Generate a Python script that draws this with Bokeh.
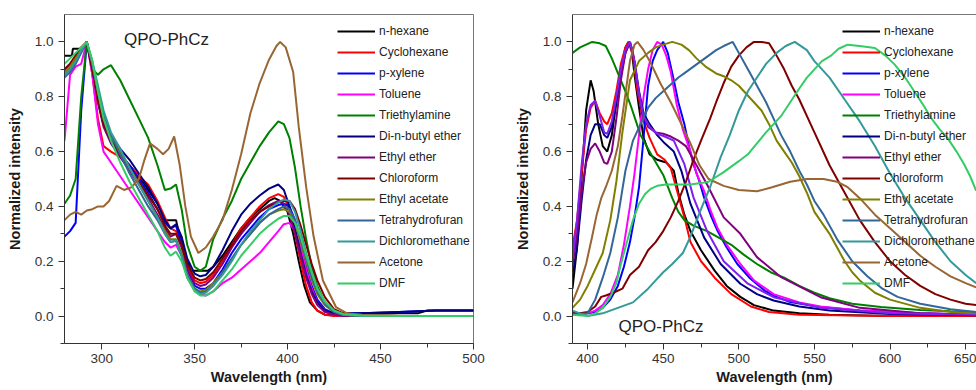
from bokeh.plotting import figure
from bokeh.models import (Legend, LegendItem, Label, FixedTicker, Range1d,
                          PrintfTickFormatter, LinearAxis)
from bokeh.layouts import row
from bokeh.embed import file_html
from bokeh.resources import INLINE

FONT = "Liberation Sans"

# ---------------- tick definitions ----------------
Y_TICKS = [0.0, 0.2, 0.4, 0.6, 0.8, 1.0]
Y_MINOR = [-0.1, 0.1, 0.3, 0.5, 0.7, 0.9]
ABS_X_TICKS = [300, 350, 400, 450, 500]
ABS_X_MINOR = [325, 375, 425, 475]
EM_X_TICKS = [400, 450, 500, 550, 600, 650]
EM_X_MINOR = [425, 475, 525, 575, 625]

SOLVENTS = ["n-hexane", "Cyclohexane", "p-xylene", "Toluene", "Triethylamine",
            "Di-n-butyl ether", "Ethyl ether", "Chloroform", "Ethyl acetate",
            "Tetrahydrofuran", "Dichloromethane", "Acetone", "DMF"]
COLORS = ["#000000", "#FF0000", "#0000FF", "#FF00FF", "#008000", "#000080",
          "#800080", "#800000", "#808000", "#336699", "#339999", "#996633",
          "#33CC66"]
EXTRA_COLOR = "#8020F0"

# ---------------- absorption (left panel) ----------------
ABS_WL = [280, 283, 286, 289, 292, 295, 298, 301, 305, 310, 315, 320, 325, 330,
          334, 337, 340, 343, 346, 350, 353, 356, 360, 365, 370, 375, 380, 385,
          390, 395, 398, 401, 404, 407, 410, 413, 416, 420, 425, 430, 440, 460,
          480, 500]

ABS_WL_HEXANE = [280, 284, 284.5, 289, 292, 295, 298, 301, 305, 310, 315, 320,
                 325, 330, 333, 333.5, 340, 341, 343, 346, 348, 357, 360, 365,
                 370, 375, 380, 385, 390, 393, 396, 400, 403, 406, 409, 412,
                 416, 420, 430, 440, 470, 475, 500]
abs_hexane = [0.95, 0.95, 0.975, 0.975, 1.00, 0.90, 0.78, 0.70, 0.64, 0.59,
              0.55, 0.51, 0.46, 0.41, 0.37, 0.35, 0.35, 0.32, 0.28, 0.20,
              0.165, 0.165, 0.18, 0.22, 0.27, 0.32, 0.36, 0.39, 0.42, 0.43,
              0.42, 0.38, 0.30, 0.20, 0.11, 0.05, 0.02, 0.005, 0.0, 0.01,
              0.01, 0.02, 0.02]
abs_cyclohexane = [0.90, 0.92, 0.95, 0.98, 1.00, 0.88, 0.72, 0.62, 0.60, 0.58,
                   0.55, 0.51, 0.48, 0.42, 0.36, 0.32, 0.31, 0.26, 0.18, 0.13,
                   0.12, 0.125, 0.15, 0.20, 0.26, 0.32, 0.36, 0.40, 0.43, 0.445,
                   0.435, 0.39, 0.30, 0.20, 0.11, 0.05, 0.02, 0.005, 0.0, 0.0,
                   0.0, 0.0, 0.0, 0.0]
abs_pxylene = [0.29, 0.31, 0.34, 0.75, 1.00, 0.90, 0.79, 0.70, 0.64, 0.59,
               0.55, 0.50, 0.45, 0.39, 0.34, 0.32, 0.33, 0.26, 0.17, 0.11,
               0.10, 0.10, 0.12, 0.17, 0.23, 0.28, 0.32, 0.36, 0.39, 0.405,
               0.41, 0.40, 0.35, 0.27, 0.18, 0.11, 0.06, 0.025, 0.01, 0.01,
               0.01, 0.015, 0.02, 0.02]
abs_toluene = [0.64, 0.88, 0.91, 0.92, 1.00, 0.88, 0.70, 0.60, 0.56, 0.51,
               0.46, 0.41, 0.36, 0.31, 0.27, 0.25, 0.26, 0.22, 0.15, 0.10,
               0.08, 0.075, 0.09, 0.12, 0.14, 0.17, 0.20, 0.23, 0.27, 0.31,
               0.335, 0.34, 0.31, 0.25, 0.17, 0.10, 0.05, 0.02, 0.005, 0.0,
               0.0, 0.0, 0.0, 0.0]
abs_triethylamine = [0.41, 0.44, 0.50, 0.80, 1.00, 0.90, 0.88, 0.90, 0.915,
                     0.86, 0.79, 0.72, 0.65, 0.55, 0.46, 0.465, 0.48, 0.39,
                     0.26, 0.18, 0.165, 0.18, 0.28, 0.355, 0.42, 0.50, 0.56,
                     0.62, 0.67, 0.71, 0.70, 0.65, 0.54, 0.40, 0.28, 0.18, 0.11,
                     0.05, 0.015, 0.005, 0.0, 0.0, 0.0, 0.0]
abs_dibutyl = [0.88, 0.90, 0.93, 0.97, 1.00, 0.90, 0.80, 0.72, 0.66, 0.61,
               0.57, 0.52, 0.47, 0.41, 0.35, 0.32, 0.335, 0.29, 0.21, 0.155,
               0.145, 0.15, 0.18, 0.24, 0.31, 0.37, 0.41, 0.44, 0.465, 0.48,
               0.46, 0.40, 0.32, 0.23, 0.15, 0.09, 0.05, 0.02, 0.01, 0.01,
               0.01, 0.015, 0.02, 0.02]
abs_ethylether = [0.90, 0.92, 0.94, 0.97, 1.00, 0.90, 0.78, 0.69, 0.63, 0.58,
                  0.53, 0.48, 0.43, 0.37, 0.32, 0.29, 0.30, 0.25, 0.17, 0.12,
                  0.11, 0.115, 0.14, 0.19, 0.25, 0.30, 0.34, 0.38, 0.405, 0.42,
                  0.41, 0.37, 0.30, 0.22, 0.14, 0.08, 0.04, 0.015, 0.005, 0.0,
                  0.0, 0.0, 0.0, 0.0]
abs_chloroform = [0.90, 0.92, 0.95, 0.98, 1.00, 0.90, 0.79, 0.70, 0.64, 0.59,
                  0.54, 0.49, 0.44, 0.39, 0.33, 0.30, 0.30, 0.26, 0.19, 0.14,
                  0.13, 0.135, 0.16, 0.21, 0.26, 0.31, 0.35, 0.38, 0.40, 0.415,
                  0.42, 0.42, 0.39, 0.33, 0.26, 0.19, 0.13, 0.07, 0.025, 0.01,
                  0.005, 0.0, 0.0, 0.0]
abs_ethylacetate = [0.89, 0.91, 0.94, 0.97, 1.00, 0.92, 0.82, 0.73, 0.66, 0.60,
                    0.54, 0.48, 0.42, 0.36, 0.31, 0.28, 0.28, 0.23, 0.15, 0.10,
                    0.09, 0.095, 0.12, 0.16, 0.21, 0.26, 0.30, 0.34, 0.37,
                    0.385, 0.39, 0.38, 0.34, 0.27, 0.20, 0.13, 0.08, 0.04,
                    0.015, 0.005, 0.0, 0.0, 0.0, 0.0]
abs_thf = [0.87, 0.89, 0.92, 0.96, 1.00, 0.92, 0.82, 0.73, 0.66, 0.59, 0.52,
           0.46, 0.40, 0.35, 0.30, 0.27, 0.275, 0.22, 0.15, 0.10, 0.085, 0.09,
           0.11, 0.16, 0.21, 0.26, 0.30, 0.34, 0.37, 0.39, 0.40, 0.39, 0.35,
           0.28, 0.21, 0.14, 0.09, 0.045, 0.015, 0.005, 0.0, 0.0, 0.0, 0.0]
abs_dcm = [0.88, 0.90, 0.93, 0.97, 1.00, 0.93, 0.84, 0.75, 0.67, 0.61, 0.54,
           0.48, 0.42, 0.36, 0.30, 0.27, 0.275, 0.22, 0.14, 0.095, 0.08, 0.085,
           0.11, 0.15, 0.20, 0.26, 0.31, 0.35, 0.39, 0.415, 0.425, 0.42, 0.38,
           0.31, 0.23, 0.16, 0.10, 0.05, 0.02, 0.005, 0.0, 0.0, 0.0, 0.0]
ABS_WL_ACETONE = [280, 283, 286, 289, 292, 295, 298, 301, 304, 308, 312, 316,
                  320, 323, 326, 330, 333, 336, 339, 342, 345, 348, 352, 356,
                  360, 365, 370, 375, 380, 385, 390, 394, 396, 399, 403, 406,
                  410, 414, 419, 426, 432, 440, 460, 480, 500]
abs_acetone = [0.35, 0.37, 0.38, 0.37, 0.385, 0.39, 0.40, 0.40, 0.42, 0.475,
               0.46, 0.47, 0.50, 0.57, 0.63, 0.61, 0.59, 0.61, 0.655, 0.55,
               0.40, 0.29, 0.23, 0.25, 0.29, 0.35, 0.46, 0.59, 0.74, 0.85,
               0.935, 0.985, 1.00, 0.98, 0.89, 0.69, 0.47, 0.29, 0.13, 0.033,
               0.01, 0.005, 0.0, 0.0, 0.0]
abs_dmf = [0.92, 0.94, 0.96, 0.98, 1.00, 0.93, 0.82, 0.72, 0.64, 0.56, 0.49,
           0.43, 0.37, 0.31, 0.25, 0.22, 0.235, 0.20, 0.14, 0.09, 0.075, 0.075,
           0.09, 0.13, 0.17, 0.22, 0.26, 0.30, 0.33, 0.355, 0.365, 0.365, 0.34,
           0.29, 0.22, 0.16, 0.10, 0.055, 0.02, 0.008, 0.002, 0.0, 0.0, 0.0]

# ---------------- emission (right panel) ----------------
em_wl_hexane = [390, 393, 396, 399, 402, 404, 407, 410, 413, 416, 419, 422,
                425, 427, 429, 431, 434, 437, 441, 446, 452, 457, 460, 464, 468,
                475, 484, 492, 501, 510, 523, 540, 560, 600, 657]
em_hexane = [0.10, 0.25, 0.50, 0.75, 0.86, 0.82, 0.70, 0.62, 0.60, 0.66, 0.78,
             0.90, 0.98, 1.00, 0.98, 0.88, 0.76, 0.65, 0.59, 0.57, 0.56, 0.53,
             0.45, 0.37, 0.31, 0.24, 0.166, 0.11, 0.07, 0.04, 0.02, 0.01,
             0.005, 0.0, 0.0]
em_wl_cyclohexane = [390, 393, 396, 399, 402, 405, 408, 411, 413, 416, 419,
                     422, 425, 427, 430, 433, 437, 441, 446, 451, 455, 459, 464,
                     468, 475, 484, 495, 508, 520, 540, 600, 657]
em_cyclohexane = [0.25, 0.35, 0.52, 0.68, 0.76, 0.785, 0.74, 0.71, 0.70, 0.74,
                  0.82, 0.92, 0.98, 1.00, 0.95, 0.82, 0.71, 0.65, 0.59, 0.57,
                  0.54, 0.46, 0.36, 0.27, 0.20, 0.14, 0.08, 0.035, 0.015,
                  0.005, 0.0, 0.0]
em_wl_pxylene = [390, 400, 405, 410, 415, 420, 424, 428, 431, 434, 437, 440,
                 443, 446, 450, 453, 457, 460, 464, 467, 470, 474, 477, 482,
                 486, 492, 499, 507, 517, 525, 534, 554, 580, 620, 657]
em_pxylene = [0.01, 0.01, 0.015, 0.03, 0.06, 0.11, 0.18, 0.27, 0.36, 0.47,
              0.65, 0.84, 0.93, 0.97, 1.00, 0.96, 0.86, 0.78, 0.70, 0.62,
              0.554, 0.49, 0.433, 0.36, 0.31, 0.25, 0.19, 0.14, 0.093, 0.07,
              0.051, 0.033, 0.02, 0.01, 0.005]
em_wl_toluene = [390, 400, 405, 410, 415, 420, 424, 428, 431, 434, 437, 440,
                 443, 446, 449, 452, 455, 459, 463, 468, 472, 477, 481, 486,
                 492, 501, 510, 523, 540, 554, 580, 620, 657]
em_toluene = [0.01, 0.01, 0.02, 0.04, 0.08, 0.15, 0.26, 0.40, 0.52, 0.66,
              0.80, 0.90, 0.97, 1.00, 0.99, 0.95, 0.89, 0.77, 0.68, 0.60,
              0.52, 0.457, 0.39, 0.32, 0.26, 0.19, 0.13, 0.08, 0.05, 0.035,
              0.02, 0.01, 0.005]
em_wl_triethylamine = [390, 395, 399, 403, 408, 412, 416, 419, 422, 425, 429,
                       432, 435, 438, 443, 450, 456, 460, 464, 470, 479, 487,
                       495, 503, 512, 521, 530, 540, 550, 560, 575, 594, 620,
                       640, 657]
em_triethylamine = [0.96, 0.98, 0.99, 1.00, 0.995, 0.985, 0.94, 0.90, 0.86,
                    0.82, 0.76, 0.71, 0.66, 0.63, 0.58, 0.515, 0.43, 0.38,
                    0.35, 0.33, 0.31, 0.285, 0.26, 0.225, 0.19, 0.16, 0.14,
                    0.11, 0.085, 0.065, 0.045, 0.033, 0.022, 0.018, 0.015]
em_wl_dibutyl = [390, 393, 396, 399, 402, 405, 408, 411, 413, 416, 419, 422,
                 425, 428, 431, 434, 437, 441, 446, 451, 457, 462, 468, 477,
                 488, 501, 512, 523, 540, 560, 600, 657]
em_dibutyl = [0.15, 0.25, 0.42, 0.57, 0.66, 0.70, 0.70, 0.66, 0.65, 0.69,
              0.78, 0.88, 0.96, 1.00, 0.93, 0.82, 0.74, 0.70, 0.66, 0.63,
              0.60, 0.53, 0.41, 0.287, 0.19, 0.118, 0.08, 0.057, 0.035, 0.02,
              0.008, 0.003]
em_wl_ethylether = [390, 393, 396, 399, 402, 405, 408, 411, 413, 416, 419,
                    422, 425, 428, 430, 433, 436, 440, 445, 450, 455, 460, 465,
                    470, 479, 490, 501, 512, 528, 554, 580, 620, 657]
em_ethylether = [0.18, 0.30, 0.45, 0.56, 0.61, 0.63, 0.60, 0.56, 0.555, 0.60,
                 0.72, 0.86, 0.96, 1.00, 0.96, 0.85, 0.74, 0.69, 0.67, 0.665,
                 0.655, 0.64, 0.62, 0.57, 0.48, 0.36, 0.30, 0.215, 0.142,
                 0.069, 0.03, 0.01, 0.005]
em_wl_extra = [390, 393, 396, 399, 402, 405, 408, 411, 413, 416, 419, 422, 425,
               428, 431, 434, 437, 441, 446, 451, 457, 464, 470, 479, 490, 506,
               523, 554, 600, 657]
em_extra = [0.21, 0.35, 0.55, 0.70, 0.77, 0.785, 0.73, 0.67, 0.665, 0.71,
            0.80, 0.90, 0.97, 1.00, 0.93, 0.81, 0.73, 0.69, 0.665, 0.655, 0.64,
            0.554, 0.433, 0.31, 0.20, 0.118, 0.069, 0.03, 0.01, 0.005]
em_wl_chloroform = [390, 395, 400, 405, 409, 412, 417, 423, 428, 434, 440, 445,
                    450, 455, 460, 465, 470, 475, 481, 485, 490, 495, 500, 505,
                    510, 515, 520, 525, 530, 535, 540, 550, 560, 570, 580, 590,
                    600, 610, 620, 630, 640, 650, 657]
em_chloroform = [0.01, 0.01, 0.015, 0.035, 0.07, 0.075, 0.085, 0.10, 0.15,
                 0.18, 0.24, 0.27, 0.31, 0.36, 0.42, 0.49, 0.57, 0.64, 0.72,
                 0.78, 0.85, 0.91, 0.95, 0.98, 1.00, 1.00, 0.995, 0.95, 0.90,
                 0.84, 0.79, 0.67, 0.55, 0.45, 0.35, 0.27, 0.20, 0.15, 0.11,
                 0.08, 0.06, 0.045, 0.04]
em_wl_ethylacetate = [390, 395, 400, 405, 410, 415, 419, 423, 428, 434, 440,
                      445, 450, 456, 462, 467, 472, 478, 485, 490, 495, 500,
                      505, 510, 515, 520, 525, 530, 535, 540, 545, 550, 555,
                      560, 565, 570, 575, 580, 590, 600, 620, 640, 657]
em_ethylacetate = [0.03, 0.06, 0.11, 0.17, 0.23, 0.35, 0.49, 0.67, 0.86, 0.93,
                   0.96, 0.98, 0.99, 1.00, 0.99, 0.97, 0.94, 0.91, 0.885,
                   0.875, 0.86, 0.84, 0.81, 0.78, 0.75, 0.70, 0.64, 0.60, 0.56,
                   0.51, 0.45, 0.38, 0.34, 0.30, 0.25, 0.20, 0.16, 0.13, 0.085,
                   0.06, 0.03, 0.015, 0.01]
em_wl_thf = [390, 400, 405, 410, 415, 420, 425, 430, 435, 440, 445, 450, 455,
             460, 465, 470, 475, 480, 485, 490, 496, 501, 506, 512, 518, 523,
             528, 534, 540, 545, 550, 556, 565, 575, 585, 595, 605, 620, 640,
             657]
em_thf = [0.005, 0.01, 0.06, 0.14, 0.23, 0.36, 0.53, 0.64, 0.70, 0.76, 0.795,
          0.82, 0.845, 0.87, 0.89, 0.91, 0.93, 0.95, 0.97, 0.985, 1.00, 0.95,
          0.90, 0.84, 0.78, 0.72, 0.66, 0.60, 0.53, 0.48, 0.42, 0.37, 0.28,
          0.20, 0.145, 0.10, 0.07, 0.045, 0.025, 0.015]
em_wl_dcm = [390, 400, 410, 420, 430, 440, 445, 450, 456, 463, 468, 475, 481,
             488, 494, 500, 506, 512, 518, 525, 531, 537, 545, 550, 560, 570,
             580, 590, 600, 610, 620, 630, 640, 650, 657]
em_dcm = [0.02, 0.0, 0.01, 0.03, 0.05, 0.10, 0.13, 0.16, 0.19, 0.23, 0.29,
          0.39, 0.47, 0.58, 0.66, 0.75, 0.82, 0.87, 0.92, 0.96, 0.985, 1.00,
          0.97, 0.93, 0.87, 0.79, 0.71, 0.62, 0.52, 0.43, 0.35, 0.27, 0.20,
          0.15, 0.12]
em_wl_acetone = [390, 395, 399, 403, 406, 409, 412, 416, 420, 423, 426, 428,
                 431, 433, 437, 442, 448, 455, 462, 468, 474, 480, 490, 500,
                 512, 522, 534, 545, 556, 565, 572, 580, 590, 600, 610, 620,
                 630, 640, 650, 657]
em_acetone = [0.05, 0.12, 0.19, 0.29, 0.37, 0.43, 0.47, 0.53, 0.62, 0.73,
              0.85, 0.93, 0.99, 1.00, 0.97, 0.92, 0.85, 0.78, 0.70, 0.63,
              0.55, 0.50, 0.475, 0.46, 0.455, 0.47, 0.49, 0.50, 0.50, 0.49,
              0.47, 0.43, 0.37, 0.32, 0.27, 0.22, 0.18, 0.145, 0.12, 0.105]
em_wl_dmf = [390, 400, 405, 410, 415, 419, 422, 426, 430, 434, 438, 442, 446,
             452, 460, 468, 475, 480, 490, 500, 506, 512, 518, 523, 528, 534,
             540, 545, 550, 555, 561, 566, 572, 580, 590, 597, 603, 610, 616,
             622, 627, 633, 638, 644, 649, 653, 657]
em_dmf = [0.005, 0.0, 0.01, 0.03, 0.07, 0.12, 0.19, 0.27, 0.35, 0.41, 0.445,
          0.465, 0.475, 0.48, 0.48, 0.48, 0.485, 0.49, 0.525, 0.565, 0.59,
          0.63, 0.67, 0.70, 0.73, 0.78, 0.83, 0.87, 0.90, 0.93, 0.95, 0.975,
          0.99, 0.985, 0.978, 0.95, 0.918, 0.87, 0.82, 0.77, 0.724, 0.68, 0.65,
          0.60, 0.554, 0.51, 0.457]

ABS_X = [ABS_WL_HEXANE, ABS_WL, ABS_WL, ABS_WL, ABS_WL, ABS_WL, ABS_WL, ABS_WL,
         ABS_WL, ABS_WL, ABS_WL, ABS_WL_ACETONE, ABS_WL]
ABS_Y = [abs_hexane, abs_cyclohexane, abs_pxylene, abs_toluene,
         abs_triethylamine, abs_dibutyl, abs_ethylether, abs_chloroform,
         abs_ethylacetate, abs_thf, abs_dcm, abs_acetone, abs_dmf]
EM_X = [em_wl_hexane, em_wl_cyclohexane, em_wl_pxylene, em_wl_toluene,
        em_wl_triethylamine, em_wl_dibutyl, em_wl_ethylether, em_wl_chloroform,
        em_wl_ethylacetate, em_wl_thf, em_wl_dcm, em_wl_acetone, em_wl_dmf]
EM_Y = [em_hexane, em_cyclohexane, em_pxylene, em_toluene, em_triethylamine,
        em_dibutyl, em_ethylether, em_chloroform, em_ethylacetate, em_thf,
        em_dcm, em_acetone, em_dmf]


def style(p, xticks, xminor):
    p.xgrid.visible = False
    p.ygrid.visible = False
    p.background_fill_color = "white"
    p.border_fill_color = "white"
    xa = p.xaxis[0]
    ya = p.yaxis[0]
    xa.ticker = FixedTicker(ticks=xticks, minor_ticks=xminor)
    ya.ticker = FixedTicker(ticks=Y_TICKS, minor_ticks=Y_MINOR)
    ya.formatter = PrintfTickFormatter(format="%.1f")
    xa.formatter = PrintfTickFormatter(format="%d")
    for ax in (xa, ya):
        ax.axis_line_color = "#333333"
        ax.major_tick_line_color = "#333333"
        ax.minor_tick_line_color = "#333333"
        ax.major_tick_out = 6
        ax.major_tick_in = 0
        ax.minor_tick_out = 4
        ax.minor_tick_in = 0
        ax.major_label_text_font = FONT
        ax.major_label_text_font_size = "13.5px"
        ax.major_label_text_color = "#333333"
        ax.axis_label_text_font = FONT
        ax.axis_label_text_font_size = "14.5px"
        ax.axis_label_text_font_style = "bold"
        ax.axis_label_text_color = "#1a1a1a"
    xa.axis_label = "Wavelength (nm)"
    ya.axis_label = "Normalized intensity"
    xa.major_label_standoff = 4
    xa.axis_label_standoff = 3
    ya.major_label_standoff = 5
    ya.axis_label_standoff = 9


def make_legend(p, renderers, vx, under):
    items = [LegendItem(label=name, renderers=[r])
             for name, r in zip(SOLVENTS, renderers)]
    leg = Legend(items=items, location=(vx, 52.5),
                 border_line_color=None, background_fill_alpha=0,
                 padding=0, margin=0, glyph_width=38, glyph_height=16,
                 label_height=16, spacing=5, label_standoff=4,
                 label_text_font=FONT, label_text_font_size="12px",
                 label_text_color="#222222")
    if under:
        leg.level = "underlay"
    p.add_layout(leg)


# ---------------- left panel ----------------
p1 = figure(width=488, height=390, x_range=Range1d(280, 500),
            y_range=Range1d(-0.1, 1.1), output_backend="svg",
            toolbar_location=None, min_border_left=64, min_border_right=15,
            min_border_top=14, min_border_bottom=47)
style(p1, ABS_X_TICKS, ABS_X_MINOR)
p1.outline_line_color = "#777777"
r1 = []
for xs, ys, c in zip(ABS_X, ABS_Y, COLORS):
    r1.append(p1.line(xs, ys, line_color=c, line_width=2))
make_legend(p1, r1, 273, False)
p1.add_layout(Label(x=312, y=1.01, text="QPO-PhCz", text_font=FONT,
                    text_font_size="17px", text_baseline="middle",
                    text_color="#222222"))

# ---------------- right panel ----------------
p2 = figure(width=488, height=390, x_range=Range1d(390, 657.2),
            y_range=Range1d(-0.1, 1.1), output_backend="svg",
            toolbar_location=None, min_border_left=84, min_border_right=0,
            min_border_top=14, min_border_bottom=47)
style(p2, EM_X_TICKS, EM_X_MINOR)
p2.outline_line_color = None
top = LinearAxis(ticker=FixedTicker(ticks=[], minor_ticks=[]),
                 major_tick_out=0, major_tick_in=0, minor_tick_out=0,
                 minor_tick_in=0, axis_line_color="#777777",
                 major_label_standoff=0)
p2.add_layout(top, "above")
r2 = []
for i, (xs, ys, c) in enumerate(zip(EM_X, EM_Y, COLORS)):
    r2.append(p2.line(xs, ys, line_color=c, line_width=2))
    if i == 6:
        p2.line(em_wl_extra, em_extra, line_color=EXTRA_COLOR, line_width=2)
make_legend(p2, r2, 270, True)
p2.add_layout(Label(x=420.4, y=-0.037, text="QPO-PhCz", text_font=FONT,
                    text_font_size="17px", text_baseline="middle",
                    text_color="#222222"))

layout = row(p1, p2)
open("out.html", "w").write(file_html(layout, INLINE))
